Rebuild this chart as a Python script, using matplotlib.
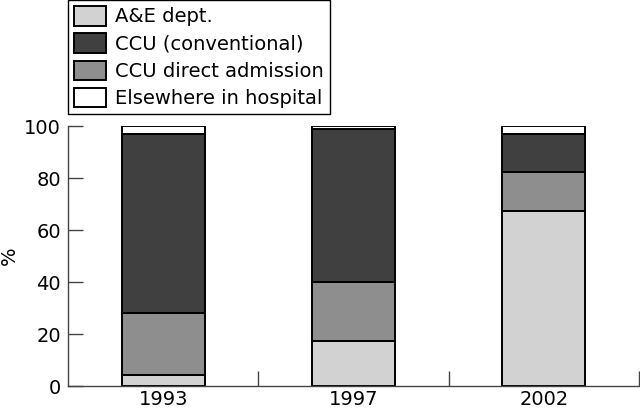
import matplotlib
matplotlib.use("Agg")
import matplotlib.pyplot as plt
import numpy as np

years = ["1993", "1997", "2002"]
ae_dept = [4.2, 17.3, 67.5]
ccu_direct = [23.8, 22.7, 15.0]
ccu_conventional = [68.9, 58.7, 14.4]
elsewhere = [3.1, 1.3, 3.1]

plt.rcParams['font.family'] = ['DejaVu Sans']

fig = plt.figure(figsize=(6.4, 4.09), dpi=100)
ax = fig.add_axes([68/640, 23/409, 571/640, 260/409])

x = np.arange(len(years))
w = 0.435
edge = dict(edgecolor="black", linewidth=1.4)
b1 = ax.bar(x, ae_dept, w, color="#d2d2d2", **edge)
bottom = np.array(ae_dept)
b2 = ax.bar(x, ccu_direct, w, bottom=bottom, color="#8e8e8e", **edge)
bottom = bottom + np.array(ccu_direct)
b3 = ax.bar(x, ccu_conventional, w, bottom=bottom, color="#404040", **edge)
bottom = bottom + np.array(ccu_conventional)
b4 = ax.bar(x, elsewhere, w, bottom=bottom, color="white", **edge)

ax.set_xlim(-0.5, 2.5)
ax.set_ylim(0, 100)
ax.set_yticks([0, 20, 40, 60, 80, 100])
ax.set_xticks(x)
ax.set_xticklabels(years)
ax.set_xticks([0.5, 1.5, 2.5], minor=True)
ax.tick_params(axis="x", which="major", length=0, pad=3, labelsize=14)
ax.tick_params(axis="x", which="minor", direction="in", length=11, width=1, color="#444444")
ax.tick_params(axis="y", direction="in", length=11, width=1, color="#444444", pad=5, labelsize=14)
for s in ["top", "right"]:
    ax.spines[s].set_visible(False)
for s in ["left", "bottom"]:
    ax.spines[s].set_color("#444444")
    ax.spines[s].set_linewidth(1)
ax.set_ylabel("%", fontsize=14, labelpad=4)

leg = fig.legend([b1, b3, b2, b4],
                 ["A&E dept.", "CCU (conventional)", "CCU direct admission", "Elsewhere in hospital"],
                 loc="upper left", bbox_to_anchor=(68/640, 1.0), borderaxespad=0,
                 fontsize=14, fancybox=False, edgecolor="black", framealpha=1,
                 handlelength=1.65, handleheight=1.15, labelspacing=0.36,
                 handletextpad=0.45, borderpad=0.32)
leg.get_frame().set_linewidth(1)

fig.savefig("out.png", dpi=100)
